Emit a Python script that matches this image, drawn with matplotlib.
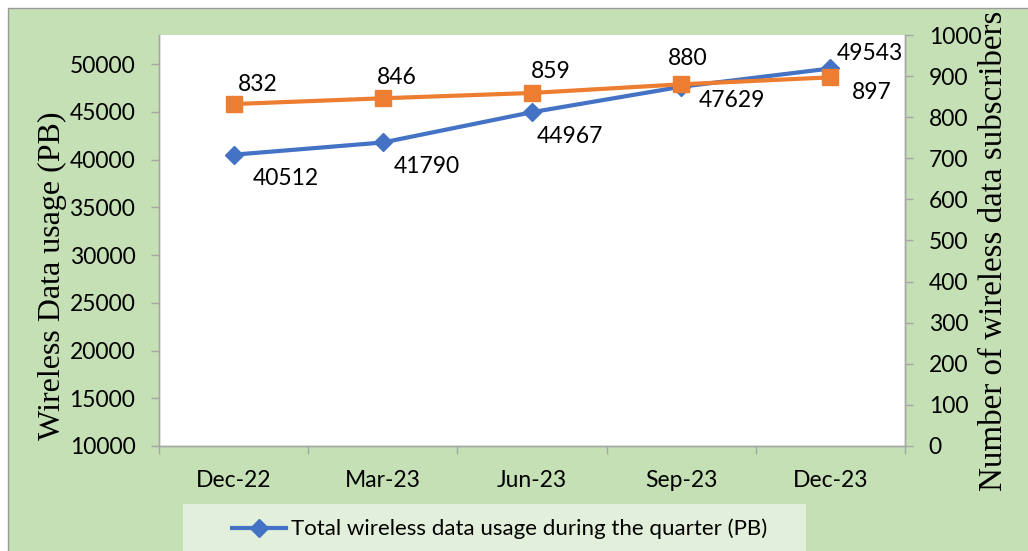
import matplotlib
matplotlib.use("Agg")
import matplotlib.pyplot as plt
from matplotlib.patches import Rectangle

# data
quarters = ['Dec-22', 'Mar-23', 'Jun-23', 'Sep-23', 'Dec-23']
usage_pb = [40512, 41790, 44967, 47629, 49543]
subscribers = [832, 846, 859, 880, 897]

# label offsets in pixels (dx, dy up)
usage_offsets = [(52, -22.5), (44, -23), (38, -23), (51, -12), (39, 16)]
subs_offsets = [(24, 21.5), (14, 22.5), (19, 22.5), (6, 27.5), (41, -13.5)]

BLUE = '#4472C4'
ORANGE = '#ED7D31'
BG = '#C5E0B4'
LEG_BG = '#E2EFDA'
GRID = '#A6A6A6'
TICKFONT = 'Lato'
SERIF = 'Liberation Serif'

W, H = 1028, 551
fig = plt.figure(figsize=(W / 100, H / 100), dpi=100)
fig.patch.set_facecolor('white')

# green chart background with thin grey border top/left
fig.patches.append(Rectangle((8 / W, -0.05), 1.1, 1 - 8 / H + 0.05,
                             transform=fig.transFigure, facecolor=BG,
                             edgecolor='#9A9A9A', lw=1, zorder=-10))
# legend area
fig.patches.append(Rectangle((183 / W, -0.05), (806 - 183) / W, 1 - 504 / H + 0.05,
                             transform=fig.transFigure, facecolor=LEG_BG,
                             edgecolor='none', zorder=-9))

ax = fig.add_axes([159 / W, 1 - 446 / H, (905 - 159) / W, (446 - 35) / H])
ax.set_facecolor('white')
ax2 = ax.twinx()

x = range(len(quarters))
l1, = ax.plot(x, usage_pb, color=BLUE, lw=3, marker='D', ms=9.5,
              label='Total wireless data usage during the quarter (PB)')
l2, = ax2.plot(x, subscribers, color=ORANGE, lw=3, marker='s', ms=12)

ax.set_xlim(-0.5, 4.5)
ax.set_ylim(10000, 53050)
ax.set_yticks(range(10000, 50001, 5000))
ax2.set_ylim(0, 1000)
ax2.set_yticks(range(0, 1001, 100))
ax.set_xticks(list(x))
ax.set_xticklabels(quarters)

for a in (ax, ax2):
    a.spines['top'].set_visible(False)
    for s in ('left', 'right', 'bottom'):
        a.spines[s].set_color(GRID)
        a.spines[s].set_linewidth(1)
    a.tick_params(axis='both', colors=GRID, labelcolor='black', length=6,
                  width=1, pad=11, labelsize=16.5)
    for t in a.get_xticklabels() + a.get_yticklabels():
        t.set_fontfamily(TICKFONT)

# category ticks sit between categories
ax.set_xticks([i + 0.5 for i in range(-1, 5)], minor=True)
ax.tick_params(axis='x', which='major', length=0, pad=17)
ax.tick_params(axis='x', which='minor', length=6, color=GRID, width=1)

for xi, v, (dx, dy) in zip(x, usage_pb, usage_offsets):
    ax.annotate(f'{v}', (xi, v), xytext=(dx, dy - 8), textcoords='offset pixels',
                ha='center', va='baseline', fontsize=16.5, family=TICKFONT)
for xi, v, (dx, dy) in zip(x, subscribers, subs_offsets):
    ax2.annotate(f'{v}', (xi, v), xytext=(dx, dy - 8), textcoords='offset pixels',
                 ha='center', va='baseline', fontsize=16.5, family=TICKFONT)

fig.text(52 / W, 1 - 276 / H, 'Wireless Data usage (PB)', rotation=90,
         ha='center', va='center', fontsize=23, family=SERIF)
fig.text(994 / W, 1 - 251 / H, 'Number of wireless data subscribers', rotation=90,
         ha='center', va='center', fontsize=23.8, family=SERIF)

fig.legend(handles=[l1], loc='center left', bbox_to_anchor=(232 / W, 1 - 529 / H),
           frameon=False, prop={'family': TICKFONT, 'size': 16},
           handlelength=2.45, handletextpad=0.2, borderpad=0, borderaxespad=0)

fig.savefig('out.png', dpi=100)
